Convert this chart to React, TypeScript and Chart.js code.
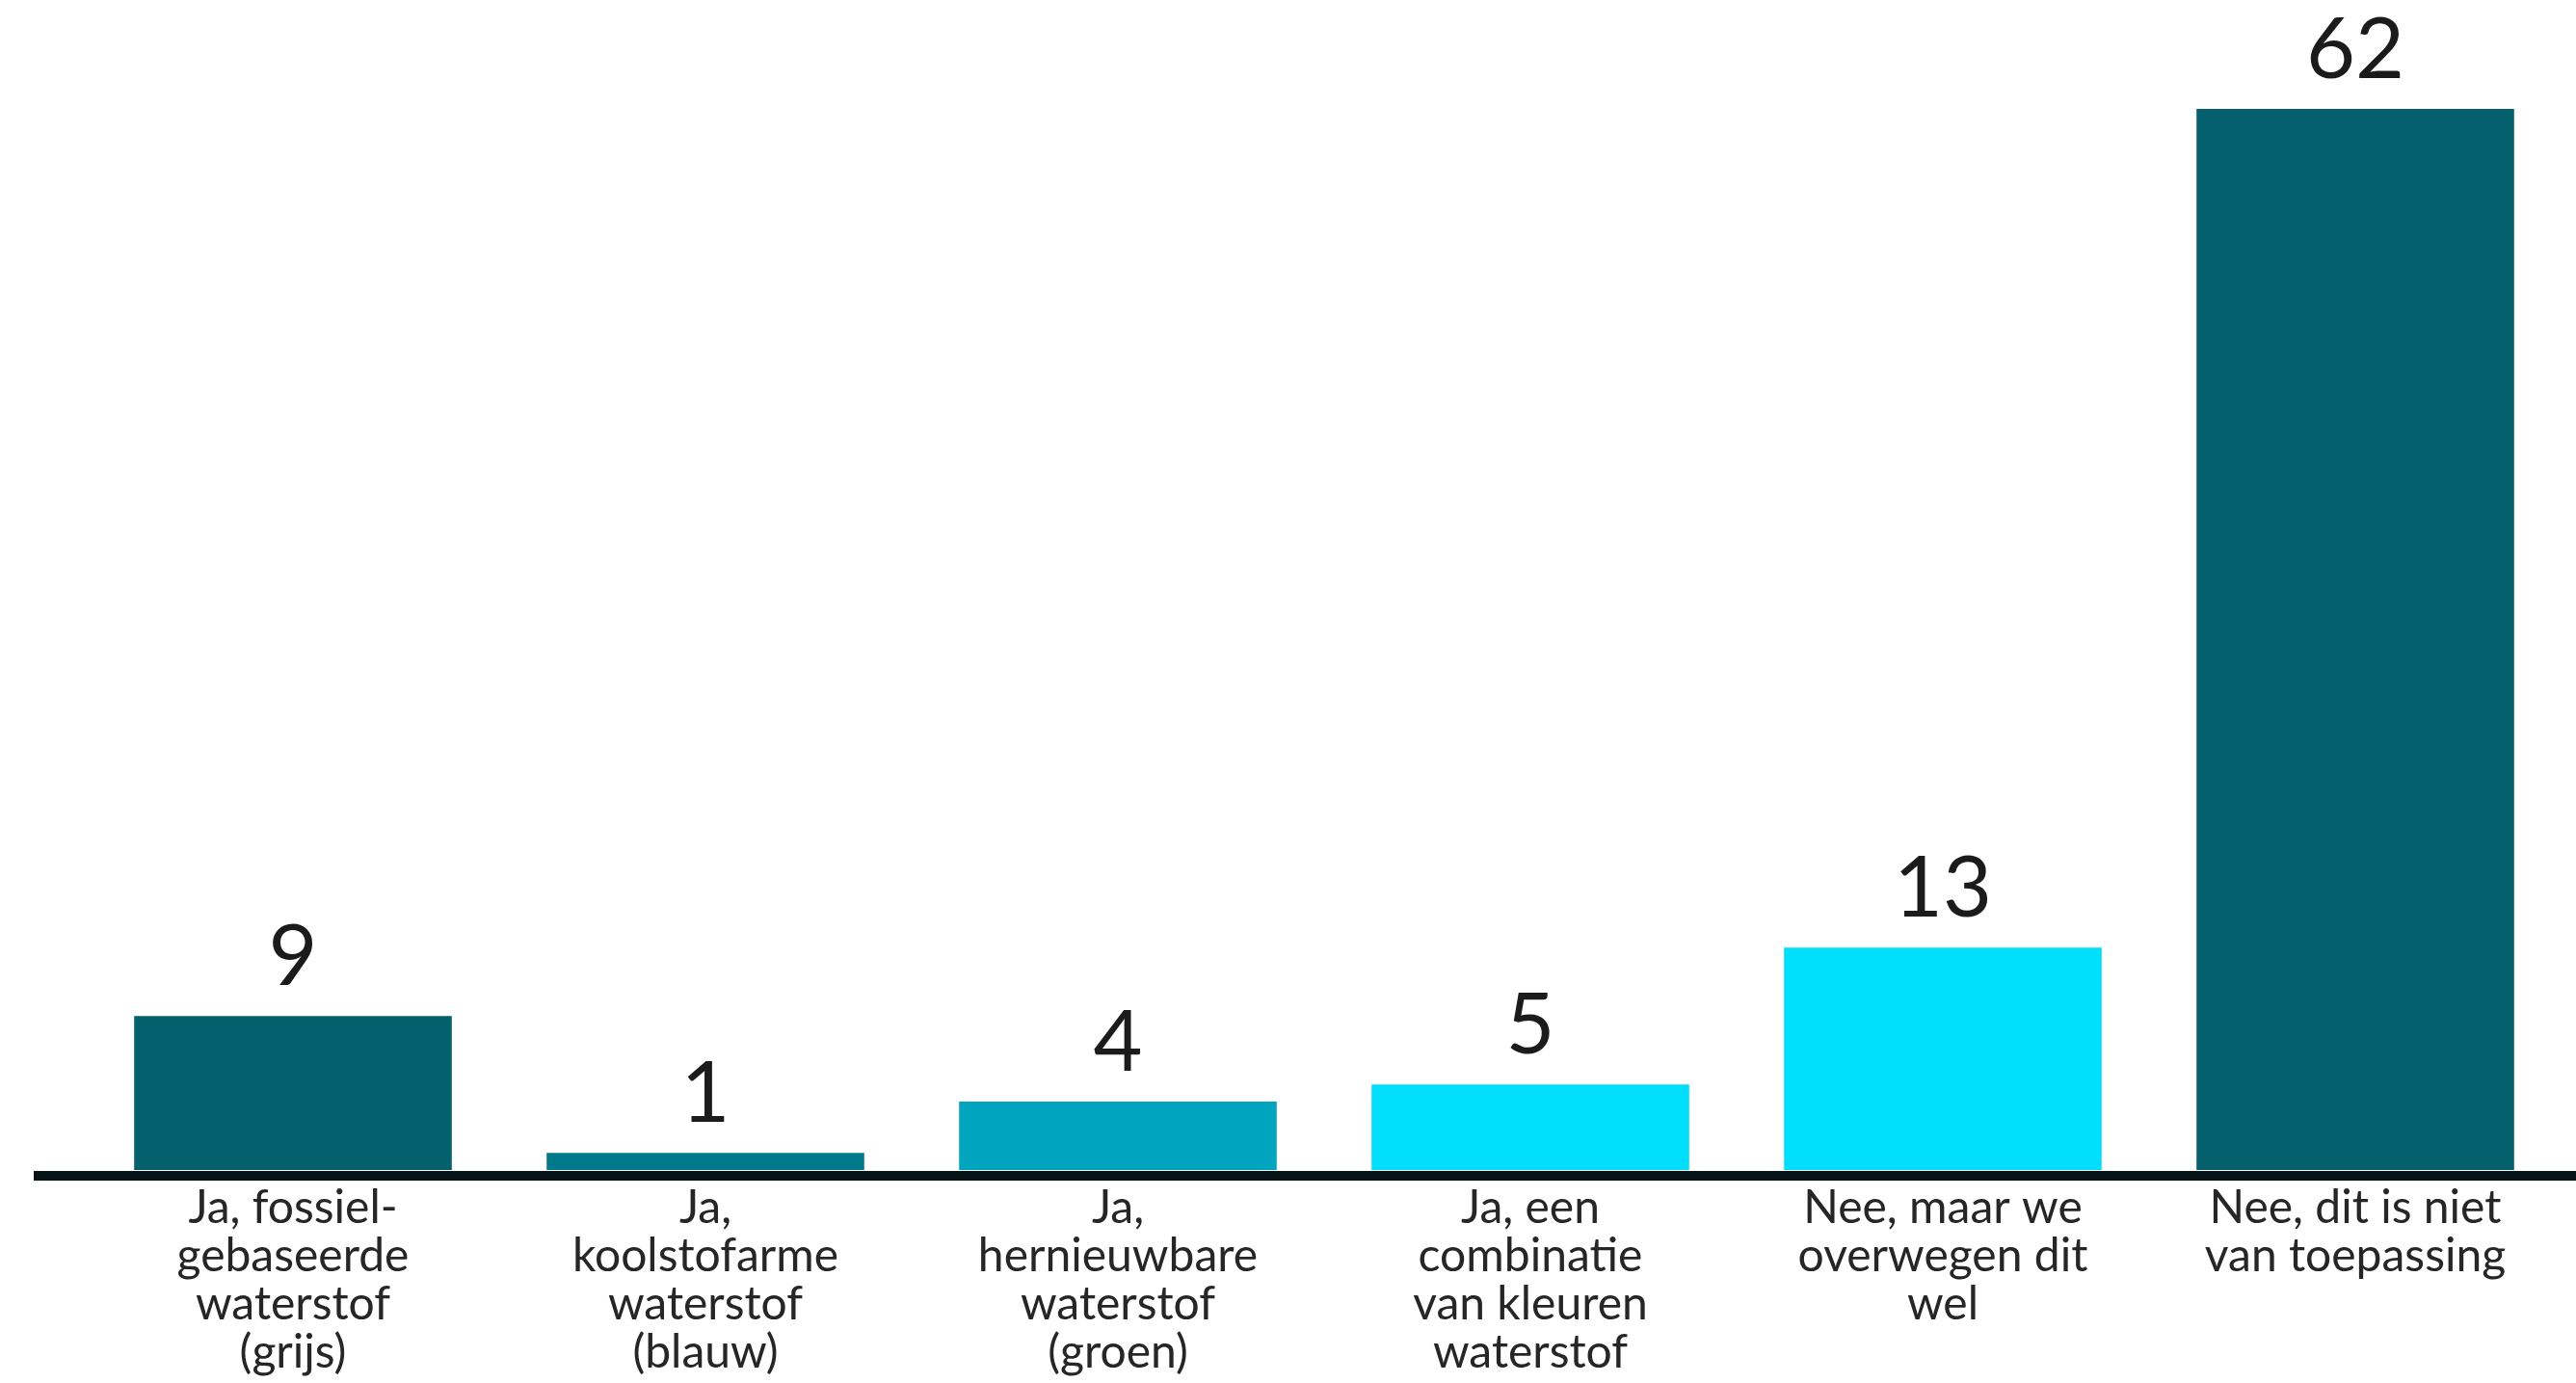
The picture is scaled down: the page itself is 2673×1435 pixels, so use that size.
import React, { useEffect, useRef } from "react";
import { Chart, registerables } from "chart.js";

Chart.register(...registerables);

const categories: string[][] = [
  ["Ja, fossiel-", "gebaseerde", "waterstof", "(grijs)"],
  ["Ja,", "koolstofarme", "waterstof", "(blauw)"],
  ["Ja,", "hernieuwbare", "waterstof", "(groen)"],
  ["Ja, een", "combinatie", "van kleuren", "waterstof"],
  ["Nee, maar we", "overwegen dit", "wel"],
  ["Nee, dit is niet", "van toepassing"],
];

const values: number[] = [9, 1, 4, 5, 13, 62];

const barColors: string[] = ["#03606C", "#00798A", "#00A4BE", "#00DEFB", "#00DEFB", "#03606C"];

const FONT = "Lato, 'Noto Sans', sans-serif";

const baselinePlugin = {
  id: "baselinePlugin",
  afterDatasetsDraw(chart: any) {
    const { ctx } = chart;
    const y0 = chart.scales.y.getPixelForValue(0);
    ctx.save();
    ctx.fillStyle = "#061215";
    ctx.fillRect(35, y0 + 1, chart.width - 35, 10);
    ctx.restore();
  },
};

const valueLabelPlugin = {
  id: "valueLabelPlugin",
  afterDatasetsDraw(chart: any) {
    const { ctx } = chart;
    const meta = chart.getDatasetMeta(0);
    ctx.save();
    ctx.font = `400 88px ${FONT}`;
    ctx.fillStyle = "#1b1b1b";
    ctx.textAlign = "center";
    ctx.textBaseline = "alphabetic";
    meta.data.forEach((bar: any, i: number) => {
      ctx.fillText(String(values[i]), bar.x, bar.y - 32);
    });
    ctx.restore();
  },
};

export default function App() {
  const canvasRef = useRef<HTMLCanvasElement | null>(null);

  useEffect(() => {
    if (!canvasRef.current) return;
    const chart = new Chart(canvasRef.current, {
      type: "bar",
      data: {
        labels: categories,
        datasets: [
          {
            data: values,
            backgroundColor: barColors,
            borderWidth: 0,
            categoryPercentage: 1,
            barPercentage: 0.77,
          },
        ],
      },
      options: {
        responsive: false,
        animation: false,
        maintainAspectRatio: false,
        layout: { padding: { top: 113, left: 90, right: 15, bottom: 0 } },
        plugins: {
          legend: { display: false },
          tooltip: { enabled: false },
          title: { display: false },
        },
        scales: {
          x: {
            grid: { display: false, drawTicks: false },
            border: { display: false },
            ticks: {
              autoSkip: false,
              maxRotation: 0,
              minRotation: 0,
              padding: 15,
              color: "#262626",
              font: { family: FONT, size: 48, lineHeight: 50 / 48 },
            },
            afterFit: (scale: any) => {
              scale.height = 221;
            },
          },
          y: {
            display: false,
            min: 0,
            max: 62,
          },
        },
      },
      plugins: [baselinePlugin, valueLabelPlugin],
    });
    return () => chart.destroy();
  }, []);

  return (
    <div style={{ position: "fixed", left: 0, top: 0, width: 2673, height: 1435, background: "#ffffff" }}>
      <canvas ref={canvasRef} width={2673} height={1435} style={{ display: "block" }} />
    </div>
  );
}
